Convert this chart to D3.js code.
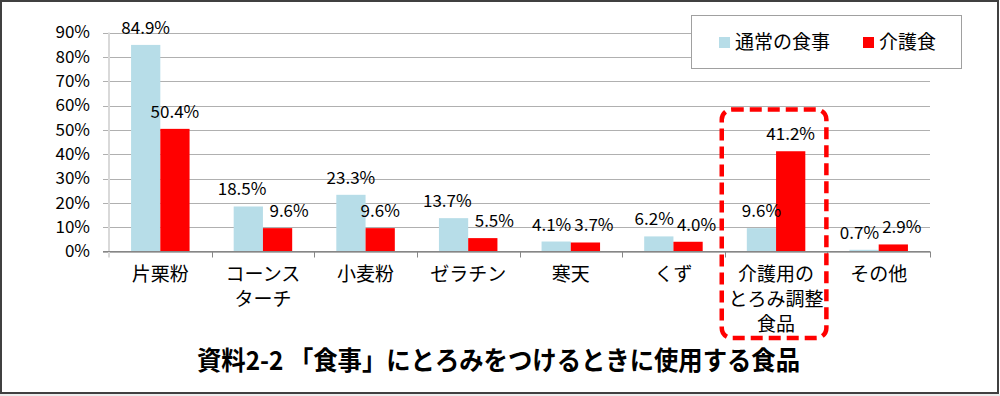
<!DOCTYPE html>
<html>
<head>
<meta charset="utf-8">
<script src="https://cdn.jsdelivr.net/npm/d3@7"></script>
<style>
  body { margin: 0; background: #fff; }
  svg { display: block; font-family: "Noto Sans CJK JP", "Noto Sans", sans-serif; }
</style>
</head>
<body>
<div id="chart"></div>
<script>
// categories (label lines) and the two series, in %
var categories = ["片栗粉", "コーンスターチ", "小麦粉", "ゼラチン", "寒天", "くず", "介護用のとろみ調整食品", "その他"];
var categoryLines = [["片栗粉"], ["コーンス", "ターチ"], ["小麦粉"], ["ゼラチン"], ["寒天"], ["くず"], ["介護用の", "とろみ調整", "食品"], ["その他"]];
var seriesNames = ["通常の食事", "介護食"];
var normalMeal = [84.9, 18.5, 23.3, 13.7, 4.1, 6.2, 9.6, 0.7];
var careMeal = [50.4, 9.6, 9.6, 5.5, 3.7, 4.0, 41.2, 2.9];
var yTicks = [0, 10, 20, 30, 40, 50, 60, 70, 80, 90];
var highlighted = "介護用のとろみ調整食品";
var title = "資料2-2 「食事」にとろみをつけるときに使用する食品";

var colors = { "通常の食事": "#b7dde8", "介護食": "#ff0000" };

var W = 1000, H = 396;
var plot = { left: 109, right: 930, top: 32.5, bottom: 251.5 };

var svg = d3.select("#chart").append("svg")
  .attr("width", W)
  .attr("height", H);

// light strip under the frame
svg.append("rect").attr("x", 0).attr("y", 394).attr("width", W).attr("height", 2).attr("fill", "#ececec");

// outer frame
svg.append("rect")
  .attr("x", 1).attr("y", 1)
  .attr("width", 997).attr("height", 392)
  .attr("fill", "#fff")
  .attr("stroke", "#404040")
  .attr("stroke-width", 2);

var x0 = d3.scaleBand()
  .domain(categories)
  .range([plot.left, plot.right])
  .padding(0);

var bw = x0.bandwidth();
var x1 = d3.scaleBand()
  .domain(seriesNames)
  .range([bw * 0.215, bw * 0.785])
  .padding(0);

var y = d3.scaleLinear()
  .domain([0, 90])
  .range([plot.bottom, plot.top]);

// gridlines
svg.append("g")
  .selectAll("line")
  .data(yTicks)
  .enter()
  .append("line")
  .attr("x1", plot.left - 6)
  .attr("x2", plot.right)
  .attr("y1", (d) => Math.round(y(d)) + 0.5)
  .attr("y2", (d) => Math.round(y(d)) + 0.5)
  .attr("stroke", "#b0b0b0")
  .attr("stroke-width", 1);

// y axis labels
var yAxis = svg.append("g")
  .attr("transform", "translate(" + plot.left + ",0)")
  .call(d3.axisLeft(y).tickValues(yTicks).tickSize(0).tickPadding(19).tickFormat((d) => d + "%"));
yAxis.select(".domain").remove();
yAxis.selectAll("text")
  .attr("font-size", "17px")
  .attr("font-family", "'Noto Sans CJK JP', sans-serif")
  .attr("fill", "#000");

// y axis line
svg.append("line")
  .attr("x1", plot.left).attr("x2", plot.left)
  .attr("y1", plot.top).attr("y2", plot.bottom + 6)
  .attr("stroke", "#d9d9d9")
  .attr("stroke-width", 2);

// bars
var rows = categories.map((c, i) => ({ cat: c, values: [
  { key: seriesNames[0], value: normalMeal[i] },
  { key: seriesNames[1], value: careMeal[i] }
] }));

var groups = svg.append("g")
  .selectAll("g")
  .data(rows)
  .enter()
  .append("g")
  .attr("transform", (d) => "translate(" + x0(d.cat) + ",0)");

groups.selectAll("rect")
  .data((d) => d.values)
  .enter()
  .append("rect")
  .attr("x", (d) => x1(d.key))
  .attr("y", (d) => y(d.value))
  .attr("width", x1.bandwidth())
  .attr("height", (d) => plot.bottom - y(d.value))
  .attr("fill", (d) => colors[d.key]);

groups.selectAll("text")
  .data((d) => d.values)
  .enter()
  .append("text")
  .attr("x", (d) => x1(d.key) + x1.bandwidth() / 2)
  .attr("y", (d) => y(d.value) - 11)
  .attr("text-anchor", "middle")
  .attr("font-size", "17px")
  .attr("fill", "#000")
  .text((d) => d.value.toFixed(1) + "%");

// push apart the two value labels of a group when they collide
groups.each(function () {
  var labels = d3.select(this).selectAll("text").nodes();
  var a = labels[0].getBBox(), b = labels[1].getBBox();
  var vOverlap = a.y < b.y + b.height && b.y < a.y + a.height;
  var overlap = a.x + a.width + 3 - b.x;
  if (vOverlap && overlap > 0) {
    d3.select(labels[0]).attr("x", +d3.select(labels[0]).attr("x") - overlap * 0.35);
    d3.select(labels[1]).attr("x", +d3.select(labels[1]).attr("x") + overlap * 0.65);
  }
});

// x axis line and ticks
svg.append("line")
  .attr("x1", plot.left - 6).attr("x2", plot.right)
  .attr("y1", Math.round(plot.bottom) - 0.5).attr("y2", Math.round(plot.bottom) - 0.5)
  .attr("stroke", "#868686");

svg.append("g")
  .selectAll("line")
  .data(categories.slice(1).map((c) => x0(c)).concat([plot.right]))
  .enter()
  .append("line")
  .attr("x1", (d) => Math.round(d) + 0.5)
  .attr("x2", (d) => Math.round(d) + 0.5)
  .attr("y1", plot.bottom)
  .attr("y2", plot.bottom + 6)
  .attr("stroke", "#868686");

// category labels
var catLabels = svg.append("g")
  .selectAll("text")
  .data(categories)
  .enter()
  .append("text")
  .attr("x", (d) => x0(d) + bw / 2)
  .attr("y", 281)
  .attr("text-anchor", "middle")
  .attr("font-size", "19px")
  .attr("fill", "#000");

catLabels.each(function (d, i) {
  var t = d3.select(this);
  categoryLines[i].forEach(function (line, j) {
    t.append("tspan")
      .attr("x", x0(d) + bw / 2)
      .attr("dy", j === 0 ? 0 : 25)
      .text(line);
  });
});

// highlight box round the care-food category
svg.append("rect")
  .attr("x", x0(highlighted) - 3)
  .attr("y", 109.5)
  .attr("width", bw + 2)
  .attr("height", 228.5)
  .attr("rx", 10)
  .attr("fill", "none")
  .attr("stroke", "#ff0000")
  .attr("stroke-width", 4.5)
  .attr("stroke-dasharray", "12,6");

// legend
var legend = svg.append("g");
legend.append("rect")
  .attr("x", 691.5).attr("y", 15.5)
  .attr("width", 270).attr("height", 53)
  .attr("fill", "#fff")
  .attr("stroke", "#a0a0a0");

var legendX = [719, 863];
seriesNames.forEach(function (s, i) {
  legend.append("rect")
    .attr("x", legendX[i]).attr("y", 37)
    .attr("width", 11).attr("height", 11)
    .attr("fill", colors[s]);
  legend.append("text")
    .attr("x", legendX[i] + 16)
    .attr("y", 49)
    .attr("font-size", "19px")
    .attr("fill", "#000")
    .text(s);
});

// title
svg.append("text")
  .attr("x", 197)
  .attr("y", 370)
  .attr("font-size", "26px")
  .attr("font-weight", "bold")
  .attr("fill", "#000")
  .attr("textLength", 603)
  .attr("lengthAdjust", "spacingAndGlyphs")
  .text(title);
</script>
</body>
</html>
